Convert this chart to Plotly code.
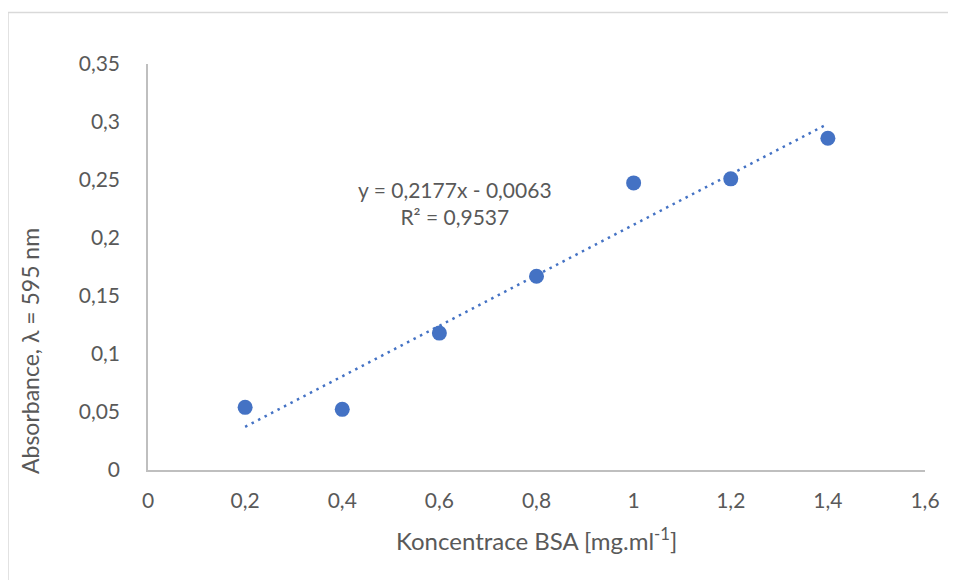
import plotly.graph_objects as go

# Data
conc = [0.2, 0.4, 0.6, 0.8, 1.0, 1.2, 1.4]
absorb = [0.054, 0.0523, 0.118, 0.167, 0.2475, 0.251, 0.286]
trend_slope = 0.2177
trend_intercept = -0.0063
x_ticks = [0, 0.2, 0.4, 0.6, 0.8, 1.0, 1.2, 1.4, 1.6]
x_ticklabels = ["0", "0,2", "0,4", "0,6", "0,8", "1", "1,2", "1,4", "1,6"]
y_ticks = [0, 0.05, 0.1, 0.15, 0.2, 0.25, 0.3, 0.35]
y_ticklabels = ["0", "0,05", "0,1", "0,15", "0,2", "0,25", "0,3", "0,35"]
eq_text = "y = 0,2177x - 0,0063<br>R² = 0,9537"
x_title = "Koncentrace BSA [mg.ml<sup>-1</sup>]"
y_title = "Absorbance, λ = 595 nm"

BLUE = "#4472C4"
TXT = "#595959"
FONT = "Lato"

trend_x = [min(conc), max(conc)]
trend_y = [trend_slope * v + trend_intercept for v in trend_x]

fig = go.Figure()
fig.add_trace(go.Scatter(
    x=trend_x, y=trend_y, mode="lines",
    line=dict(color=BLUE, width=2.5, dash="2.5px,4.8px"),
    hoverinfo="skip", showlegend=False,
))
fig.add_trace(go.Scatter(
    x=conc, y=absorb, mode="markers",
    marker=dict(color=BLUE, size=15, line=dict(width=0)),
    showlegend=False,
))

# page body has an 8px margin, so work in screen px minus 8
OFF = 8
W, H = 956 - OFF, 580 - OFF
L, T = 148 - OFF, 64 - OFF
pw, ph = 777, 406
R = W - L - pw
B = H - T - ph

def px_x(p):
    return (p - OFF - L) / pw

def px_y(p):
    return (T + ph - (p - OFF)) / ph

fig.update_layout(
    width=W, height=H,
    margin=dict(l=L, r=R, t=T, b=B),
    paper_bgcolor="white", plot_bgcolor="white",
    font=dict(family=FONT, size=21, color=TXT),
    xaxis=dict(
        range=[0, 1.6], tickvals=x_ticks, ticktext=x_ticklabels,
        showgrid=False, zeroline=False, showline=True,
        linecolor="#BFBFBF", linewidth=1.5, ticks="",
        ticklabelstandoff=11,
    ),
    yaxis=dict(
        range=[0, 0.35], tickvals=y_ticks, ticktext=y_ticklabels,
        showgrid=False, zeroline=False, showline=True,
        linecolor="#BFBFBF", linewidth=1.5, ticks="",
        ticklabelstandoff=22,
    ),
    annotations=[
        dict(text=y_title, xref="paper", yref="paper",
             x=px_x(30), y=px_y(351), textangle=-90, showarrow=False,
             font=dict(size=23, color=TXT), xanchor="center", yanchor="middle"),
        dict(text=x_title, xref="paper", yref="paper",
             x=px_x(536), y=px_y(539), showarrow=False,
             font=dict(size=24, color=TXT), xanchor="center", yanchor="middle"),
        dict(text=eq_text, xref="paper", yref="paper",
             x=px_x(455), y=px_y(203), showarrow=False, align="center",
             font=dict(size=21, color=TXT), xanchor="center", yanchor="middle"),
    ],
    shapes=[
        dict(type="rect", xref="paper", yref="paper",
             x0=px_x(8), x1=px_x(1000), y0=px_y(640), y1=px_y(12.5),
             line=dict(color="#D9D9D9", width=1.5), fillcolor="rgba(0,0,0,0)", layer="below"),
    ],
)

fig.write_html("out.html")
